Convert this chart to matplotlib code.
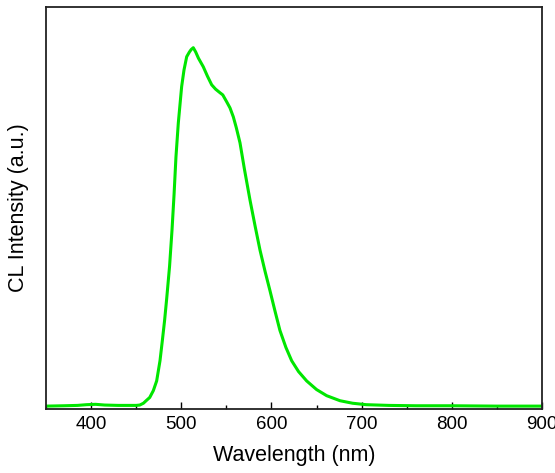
import matplotlib.pyplot as plt
from matplotlib.ticker import MultipleLocator

plt.rcParams['font.family'] = ['Liberation Sans', 'DejaVu Sans']

# CL spectrum (wavelength in nm, normalised intensity)
wavelength = [350, 370, 385, 395, 405, 415, 430, 445, 450, 454, 458, 461, 465,
              469, 472.7, 476.4, 479, 481.5, 483.8, 487, 489.7, 492, 494.1, 496.7,
              500.4, 503, 506, 509, 511, 513.3, 516, 519, 524.4, 529, 533.7, 538,
              542.9, 546, 550.3, 554, 557.7, 561, 565.1, 570, 576.2, 582, 587.3,
              593, 598.3, 604, 609.4, 616, 622.4, 630, 639, 650, 661.2, 676, 690,
              705, 730, 760, 800, 850, 900]
intensity = [0.002, 0.003, 0.004, 0.006, 0.007, 0.005, 0.004, 0.004, 0.004, 0.005,
             0.01, 0.017, 0.026, 0.045, 0.072, 0.128, 0.184, 0.24, 0.3, 0.39,
             0.49, 0.59, 0.694, 0.788, 0.889, 0.935, 0.972, 0.985, 0.992, 0.997,
             0.985, 0.968, 0.944, 0.918, 0.894, 0.882, 0.872, 0.866, 0.847, 0.83,
             0.805, 0.775, 0.733, 0.66, 0.574, 0.5, 0.435, 0.375, 0.323, 0.265,
             0.212, 0.165, 0.128, 0.098, 0.072, 0.048, 0.031, 0.017, 0.01, 0.006,
             0.004, 0.003, 0.003, 0.002, 0.002]

fig = plt.figure(figsize=(5.55, 4.73), dpi=100)
ax = fig.add_axes([0.0829, 0.1353, 0.8937, 0.8499])

ax.plot(wavelength, intensity, color='#00e600', lw=2.2)

ax.set_xlim(350, 900)
ax.set_ylim(-0.006, 1.11)
ax.xaxis.set_major_locator(MultipleLocator(100))
ax.xaxis.set_minor_locator(MultipleLocator(50))
ax.tick_params(axis='x', which='major', direction='in', length=5, width=1,
               labelsize=13.5, pad=5)
ax.tick_params(axis='x', which='minor', direction='in', length=3, width=1)
ax.set_yticks([])
for s in ax.spines.values():
    s.set_linewidth(1.3)
    s.set_color('#222222')

ax.set_xlabel('Wavelength (nm)', fontsize=15.5, labelpad=9)
ax.set_ylabel('CL Intensity (a.u.)', fontsize=15.5, labelpad=12)

fig.savefig('out.png', dpi=100)
